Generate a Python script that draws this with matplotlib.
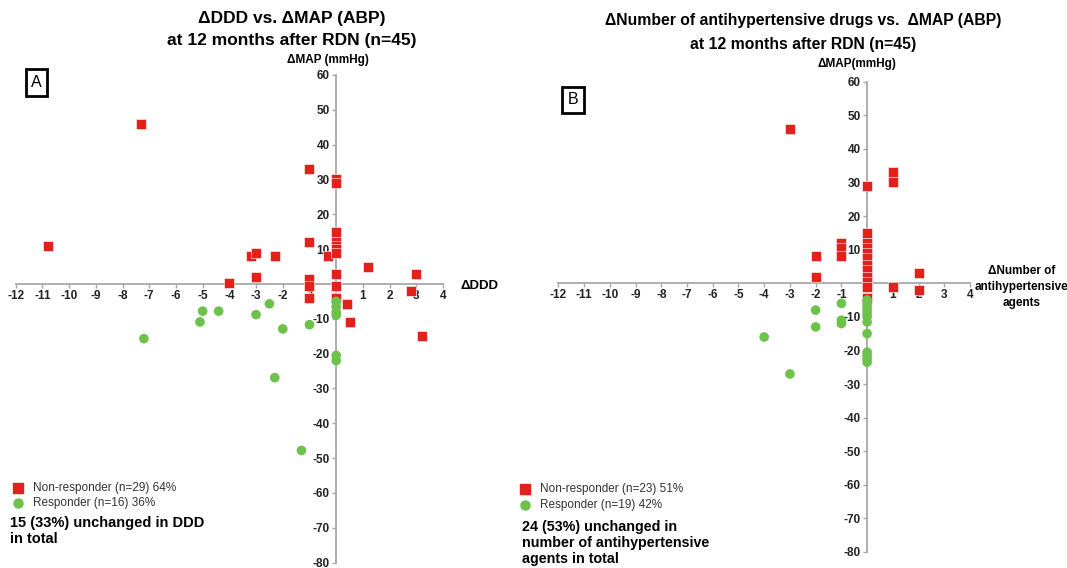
import matplotlib.pyplot as plt

plt.rcParams["font.family"] = ["Liberation Sans", "DejaVu Sans"]

RED = "#e2201c"
GREEN = "#6cc24a"
AXIS_GREY = "#a8a8a8"

# Panel A: change in DDD vs change in MAP
ddd_nonresp = [-10.8, -7.3, -4.0, -3.2, -3.0, -3.0, -2.3, -1.0, -1.0, -1.0, -1.0, -1.0, -0.3,
               0, 0, 0, 0, 0, 0, 0, 0, 0, 0, 0.4, 0.5, 1.2, 2.8, 3.0, 3.2]
map_a_nonresp = [11, 46, 0.3, 8, 9, 2, 8, 33, 12, 1.5, -0.5, -4, 8,
                 30, 29, 15, 12, 11, 10, 9, 3, -0.5, -4, -5.7, -11, 5, -2, 3, -15]
ddd_resp = [-7.2, -5.1, -5.0, -4.4, -3.0, -2.5, -2.3, -2.0, -1.3, -1.0, 0, 0, 0, 0, 0, 0]
map_a_resp = [-15.7, -10.9, -7.8, -7.8, -8.8, -5.7, -26.9, -12.9, -47.8, -11.7,
              -5, -6.5, -8, -9, -20.5, -22]

# Panel B: change in number of drugs vs change in MAP
drugs_nonresp = [-3, -2, -2, -1, -1, -1, 0, 0, 0, 0, 0, 0, 0, 0, 0, 0, 0, 0, 1, 1, 1, 2, 2]
map_b_nonresp = [46, 8, 2, 12, 10.5, 8, 29, 15, 12, 10.5, 9, 7.5, 5.5, 4, 2, 0.5, -1, -4.5,
                 33, 30, -1, 3, -2]
drugs_resp = [-4, -3, -2, -2, -1, -1, -1, 0, 0, 0, 0, 0, 0, 0, 0, 0, 0, 0, 0]
map_b_resp = [-16, -27, -8, -13, -6, -11, -12, -5, -6, -7, -8, -9, -10, -11.5, -15,
              -20.5, -21.5, -22.5, -23.5]

x_ticks = [-12, -11, -10, -9, -8, -7, -6, -5, -4, -3, -2, -1, 1, 2, 3, 4]
y_ticks = [60, 50, 40, 30, 20, 10, -10, -20, -30, -40, -50, -60, -70, -80]


def draw_panel(ax, xn, yn, xr, yr):
    ax.set_xlim(-12, 4)
    ax.set_ylim(-80, 60)
    for side in ["top", "right"]:
        ax.spines[side].set_visible(False)
    for side in ["left", "bottom"]:
        ax.spines[side].set_position(("data", 0))
        ax.spines[side].set_color(AXIS_GREY)
        ax.spines[side].set_linewidth(1.3)
    ax.set_xticks(x_ticks)
    ax.set_yticks(y_ticks)
    ax.set_xticklabels([str(t) for t in x_ticks], fontweight="bold", fontsize=8.5)
    ax.set_yticklabels([str(t) for t in y_ticks], fontweight="bold", fontsize=8.5)
    ax.tick_params(axis="both", colors=AXIS_GREY, labelcolor="#222222", length=3,
                   width=1, pad=1.5)
    ax.scatter(xn, yn, marker="s", s=46, color=RED, edgecolors="white", linewidths=0.4,
               zorder=4, clip_on=False)
    ax.scatter(xr, yr, marker="o", s=48, color=GREEN, edgecolors="none", zorder=4,
               clip_on=False)


fig = plt.figure(figsize=(10.67, 5.68), dpi=100)

axA = fig.add_axes([0.0147, 0.0095, 0.4005, 0.8585])
draw_panel(axA, ddd_nonresp, map_a_nonresp, ddd_resp, map_a_resp)
axA.text(4.65, -0.5, "ΔDDD", ha="left", va="center", fontsize=9.5, fontweight="bold",
         clip_on=False)

axB = fig.add_axes([0.5233, 0.0282, 0.3858, 0.828])
draw_panel(axB, drugs_nonresp, map_b_nonresp, drugs_resp, map_b_resp)
axB.text(6.0, -1.1, "ΔNumber of\nantihypertensive\nagents", ha="center", va="center",
         fontsize=8.5, fontweight="bold", linespacing=1.4, clip_on=False)

# titles and y labels
fig.text(292 / 1067, 1 - 18 / 568, "ΔDDD vs. ΔMAP (ABP)", ha="center", va="center",
         fontsize=12.5, fontweight="bold")
fig.text(292 / 1067, 1 - 40 / 568, "at 12 months after RDN (n=45)", ha="center",
         va="center", fontsize=12.5, fontweight="bold")
fig.text(328 / 1067, 1 - 60 / 568, "ΔMAP (mmHg)", ha="center", va="center",
         fontsize=8.5, fontweight="bold")

fig.text(803 / 1067, 1 - 20 / 568, "ΔNumber of antihypertensive drugs vs.  ΔMAP (ABP)",
         ha="center", va="center", fontsize=11.3, fontweight="bold")
fig.text(803 / 1067, 1 - 44 / 568, "at 12 months after RDN (n=45)", ha="center",
         va="center", fontsize=11.3, fontweight="bold")
fig.text(857 / 1067, 1 - 64 / 568, "ΔMAP(mmHg)", ha="center", va="center",
         fontsize=8.5, fontweight="bold")

# panel letters
for label, px, py in [("A", 36.5, 82.5), ("B", 573, 100)]:
    fig.text(px / 1067, 1 - py / 568, label, ha="center", va="center", fontsize=11.5,
             bbox=dict(boxstyle="square,pad=0.35", facecolor="white", edgecolor="black",
                       linewidth=2))

# legends
legend_rows = [
    (18, 488, 33, "s", RED, "Non-responder (n=29) 64%"),
    (18, 503, 33, "o", GREEN, "Responder (n=16) 36%"),
    (525, 489, 540, "s", RED, "Non-responder (n=23) 51%"),
    (525, 505, 540, "o", GREEN, "Responder (n=19) 42%"),
]
for mx, my, tx, mk, col, txt in legend_rows:
    fig.lines.append(plt.Line2D([mx / 1067], [1 - my / 568], marker=mk, color=col,
                                markersize=6.5, linestyle="none",
                                transform=fig.transFigure, figure=fig))
    fig.text(tx / 1067, 1 - my / 568, txt, ha="left", va="center", fontsize=8.5,
             color="#333333")

fig.text(10 / 1067, 1 - 531 / 568, "15 (33%) unchanged in DDD\nin total", ha="left",
         va="center", fontsize=10.5, fontweight="bold", linespacing=1.15)
fig.text(522 / 1067, 1 - 543 / 568,
         "24 (53%) unchanged in\nnumber of antihypertensive\nagents in total", ha="left",
         va="center", fontsize=10.3, fontweight="bold", linespacing=1.2)

fig.savefig("out.png", dpi=100)
